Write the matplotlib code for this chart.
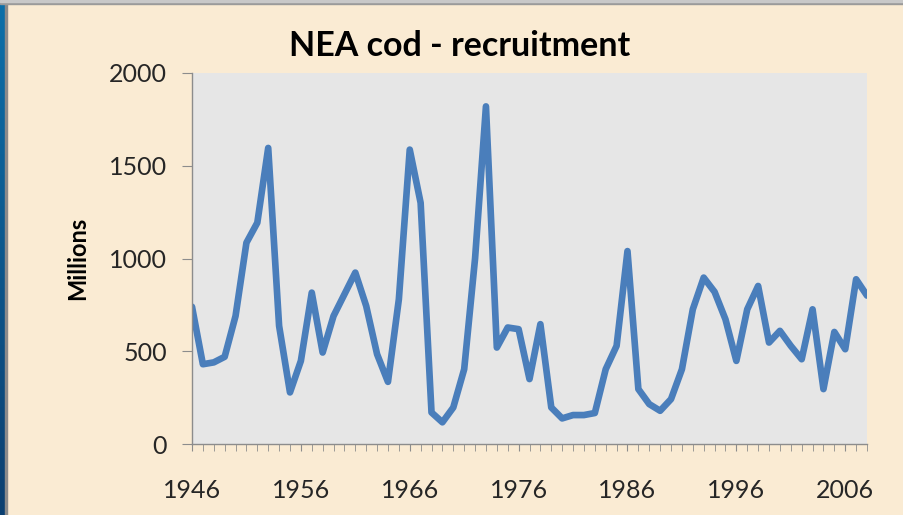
import numpy as np
import matplotlib
matplotlib.use("Agg")
import matplotlib.pyplot as plt
from matplotlib.patches import Rectangle

# NEA cod recruitment, millions
years = np.arange(1946, 2009)
recruits = [740, 430, 440, 470, 690, 1085, 1193, 1596, 637, 278,
            448, 816, 493, 690, 807, 924, 744, 484, 335, 780,
            1587, 1300, 170, 117, 197, 403, 1000, 1820, 520, 628,
            619, 350, 646, 197, 138, 156, 156, 167, 403, 529,
            1040, 296, 215, 179, 242, 403, 726, 897, 820, 672,
            448, 726, 852, 547, 610, 529, 457, 726, 296, 604,
            511, 888, 800]
label_years = [1946, 1956, 1966, 1976, 1986, 1996, 2006]
yticks = [0, 500, 1000, 1500, 2000]

bg = "#faebd3"
fig = plt.figure(figsize=(9.04, 5.15), dpi=100, facecolor=bg)

# slide edge: blue strip on the left and grey rule on top
W, H = 904.0, 515.0
strip = fig.add_axes([0, 0, 5 / W, 1])
strip.imshow(np.linspace(0, 1, 100).reshape(-1, 1), aspect="auto",
             cmap=matplotlib.colors.LinearSegmentedColormap.from_list(
                 "s", ["#0b6fa9", "#0a3f70"]), extent=[0, 1, 0, 1])
strip.axis("off")
fig.patches.append(Rectangle((5 / W, 0), 2 / W, 1, transform=fig.transFigure,
                             color="#8a8a8a", zorder=5))
fig.patches.append(Rectangle((0, 1 - 4 / H), 1, 4 / H, transform=fig.transFigure,
                             color="#9a9a9a", zorder=5))
fig.patches.append(Rectangle((0, 1 - 2 / H), 1, 1.5 / H, transform=fig.transFigure,
                             color="#c8c8c8", zorder=6))

ax = fig.add_axes([192 / W, 71 / H, 675 / W, 371 / H])
ax.set_facecolor("#e6e6e6")
ax.plot(years, recruits, color="#4a7ebb", lw=4.8,
        solid_joinstyle="round", solid_capstyle="round", clip_on=True)

ax.set_xlim(1946, 2008)
ax.set_ylim(0, 2000)
for s in ["top", "right"]:
    ax.spines[s].set_visible(False)
for s in ["left", "bottom"]:
    ax.spines[s].set_color("#8c8c8c")
    ax.spines[s].set_linewidth(1.0)

font = "Lato"
ax.set_yticks(yticks)
ax.set_yticklabels([str(v) for v in yticks], fontsize=18, family=font,
                   color="#262626")
ax.set_xticks(years, minor=True)
ax.set_xticks(label_years)
ax.set_xticklabels([str(v) for v in label_years], fontsize=18, family=font,
                   color="#262626")
ax.tick_params(axis="y", length=7, color="#8c8c8c", pad=11)
ax.tick_params(axis="x", which="both", length=5, color="#8c8c8c")
ax.tick_params(axis="x", which="major", pad=20)

ax.set_ylabel("Millions", fontsize=17, fontweight="bold", family=font)
ax.yaxis.set_label_coords(-0.152, 0.5)
fig.text(460 / W, 1 - 46 / H, "NEA cod - recruitment", ha="center",
         va="center", fontsize=24.5, fontweight="bold", family=font)

fig.savefig("out.png", dpi=100, facecolor=bg)
